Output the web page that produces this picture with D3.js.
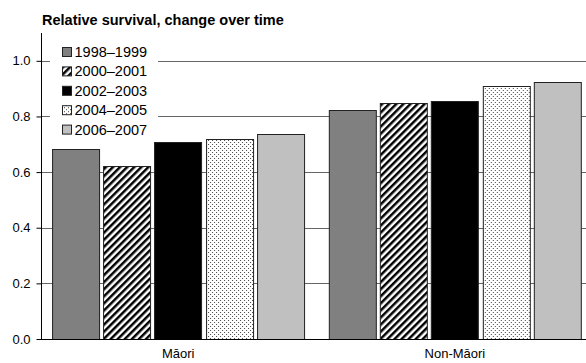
<!DOCTYPE html>
<html><head><meta charset="utf-8">
<script src="https://cdn.jsdelivr.net/npm/d3@7"></script>
<style>body{margin:0;background:#fff}svg{display:block;font-family:"Liberation Sans",Arial,sans-serif}</style>
</head><body>
<svg id="c" width="586" height="363"></svg>
<script>
const groups = ["Māori", "Non-Māori"];
const periods = ["1998–1999", "2000–2001", "2002–2003", "2004–2005", "2006–2007"];
const maori = [0.682, 0.622, 0.707, 0.718, 0.736];
const nonMaori = [0.822, 0.848, 0.855, 0.909, 0.923];
const yTicks = [0.0, 0.2, 0.4, 0.6, 0.8, 1.0];
const title = "Relative survival, change over time";

const seriesValues = [maori, nonMaori];
const svg = d3.select("#c");
const L = 41, R = 592, T = 33, B = 339;
const FF = "Liberation Sans, Arial, sans-serif";

const defs = svg.append("defs");
const stripe = defs.append("pattern").attr("id","stripe").attr("patternUnits","userSpaceOnUse")
  .attr("width",5).attr("height",5).attr("patternTransform","rotate(45)");
stripe.append("rect").attr("width",5).attr("height",5).attr("fill","#fff");
stripe.append("rect").attr("width",2.5).attr("height",5).attr("fill","#000");
const dots = defs.append("pattern").attr("id","dots").attr("patternUnits","userSpaceOnUse")
  .attr("width",4).attr("height",4);
dots.append("rect").attr("width",4).attr("height",4).attr("fill","#fff");
dots.append("rect").attr("x",0).attr("y",0).attr("width",1).attr("height",1).attr("fill","#444");
dots.append("rect").attr("x",2).attr("y",2).attr("width",1).attr("height",1).attr("fill","#444");
const fills = ["#808080","url(#stripe)","#000","url(#dots)","#c0c0c0"];

const y = d3.scaleLinear().domain([0,1.1]).range([B,T]);
const x0 = d3.scaleBand().domain(groups).range([L,R]).paddingInner(0.089).paddingOuter(0.04);
const x1 = d3.scaleBand().domain(periods).range([0,x0.bandwidth()]).paddingInner(0.08);

// gridlines
svg.append("g").selectAll("line").data(yTicks.filter(d=>d>0)).join("line")
  .attr("x1",L).attr("x2",586).attr("y1",d=>Math.round(y(d))+0.5).attr("y2",d=>Math.round(y(d))+0.5)
  .attr("stroke","#666").attr("stroke-width",1);

// bars
const gg = svg.append("g").selectAll("g").data(groups).join("g")
  .attr("transform",g=>`translate(${x0(g)},0)`);
gg.selectAll("rect").data((g,i)=>periods.map((p,j)=>({p,j,v:seriesValues[i][j]}))).join("rect")
  .attr("x",d=>Math.round(x1(d.p))+0.5).attr("width",Math.round(x1.bandwidth()))
  .attr("y",d=>Math.round(y(d.v))+0.5).attr("height",d=>Math.round(B-y(d.v)))
  .attr("fill",d=>fills[d.j]).attr("stroke","#222").attr("stroke-width",1);

// y axis
const yAxis = d3.axisLeft(y).tickValues(yTicks).tickFormat(d3.format(".1f")).tickSize(5).tickPadding(6);
const ya = svg.append("g").attr("transform",`translate(${L+0.5},0)`).call(yAxis);
ya.select(".domain").attr("d",`M0,${T}V${B}`).attr("stroke","#000");
ya.selectAll(".tick line").attr("stroke","#000");
ya.selectAll("text").attr("font-size",13).attr("fill","#000").attr("font-family",FF);

// x axis
const xAxis = d3.axisBottom(x0).tickSize(0).tickPadding(9);
const xa = svg.append("g").attr("transform",`translate(0,${B+0.5})`).call(xAxis);
xa.select(".domain").attr("d",`M${L},0H586`).attr("stroke","#000");
xa.selectAll("text").attr("font-size",13).attr("fill","#000").attr("font-family",FF);

// legend
const lg = svg.append("g");
lg.append("rect").attr("x",50).attr("y",40).attr("width",108).attr("height",98).attr("fill","#fff");
const li = lg.selectAll("g").data(periods).join("g")
  .attr("transform",(d,i)=>`translate(62,${47+i*19.4})`);
li.append("rect").attr("x",0.5).attr("y",0.5).attr("width",9).attr("height",9)
  .attr("fill",(d,i)=>fills[i]).attr("stroke","#222");
li.append("text").attr("x",12.5).attr("y",10).attr("font-size",14.5).attr("font-family",FF).text(d=>d);

// title
svg.append("text").attr("x",42).attr("y",25).attr("font-size",14.5).attr("font-weight","bold")
  .attr("font-family",FF).text(title);
</script>
</body></html>
